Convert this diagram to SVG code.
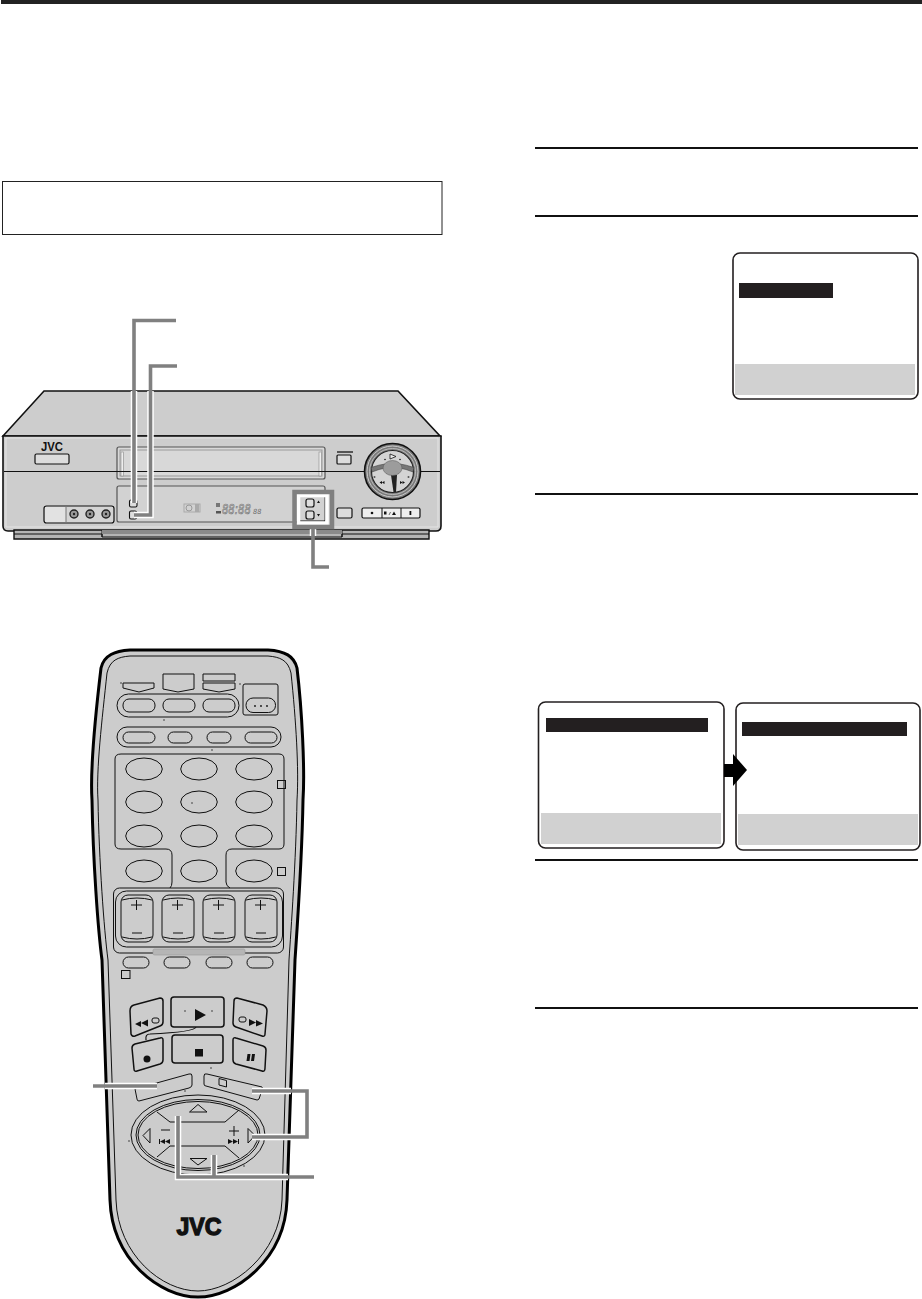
<svg xmlns="http://www.w3.org/2000/svg" width="922" height="1299" viewBox="0 0 922 1299">
<style>
.b{fill:#cdcdcd;stroke:#111;stroke-width:1}
.t{fill:none;stroke:#111;stroke-width:1}
.k{fill:#111;stroke:none}
.w{fill:#fff;stroke:#111;stroke-width:1.2}
.h{fill:none;stroke:#fff;stroke-width:6.5;stroke-linecap:butt}
.c{fill:none;stroke:#808080;stroke-width:3.6;stroke-linecap:butt}
.r{fill:none;stroke:#111;stroke-width:2}
.m{fill:#fff;stroke:#231f20;stroke-width:1.6}
.d{fill:#231f20}
.g{fill:#d1d1d1}
.s{fill:#fff;stroke:#111;stroke-width:1}
</style>
<defs>
<ellipse id="e" rx="18.3" ry="11" class="t"/>
<g id="vol"><rect x="0" y="0" width="32" height="47" rx="7" class="t"/><path class="t" d="M1,5Q16,1 31,5M1,42Q16,46 31,42"/><path class="t" d="M10,10H21M15.500,5V15M11,38H21"/></g>
</defs>
<rect width="922" height="1299" fill="#fff"/>
<rect x="1" y="0" width="921" height="4" fill="#222"/>
<rect id="note-box" x="2.500" y="181.500" width="439.500" height="53" fill="#fff" stroke="#222" stroke-width="1"/>
<g id="rules" class="r">
<path d="M535,148H918M535,216H918M535,494H918M535,860H918M535,1008H918"/>
</g>

<g id="vcr">
<path class="b" d="M3,436L44,391H398L440,436Z" style="stroke-width:1.600"/>
<path class="b" style="stroke-width:1.600" d="M3,436H441V526Q441,531 436,531H8Q3,531 3,526Z"/>
<path d="M6,438H438V527H6Z" fill="none" stroke="#e4e4e4" stroke-width="1"/>
<path class="b" d="M14,530H429V539H14Z" style="stroke-width:1.400;fill:#b4b4b4"/>
<path class="t" d="M14,534H102V537H342V534H429M102,530V537M342,530V537"/>
<path d="M102,530H342V534H102Z" fill="#8a8a8a"/>
<text x="41" y="451" font-family="'Liberation Sans',Arial,sans-serif" font-size="12.500" font-weight="700" fill="#111" textLength="22" lengthAdjust="spacingAndGlyphs">JVC</text>
<rect x="35" y="454" width="34" height="10" rx="1.500" class="s" style="fill:#ddd;stroke-width:1.200"/>
<rect x="117" y="447" width="208" height="32" rx="2" fill="#d8d8d8" stroke="#555" stroke-width="1.200"/>
<rect x="120" y="450" width="202" height="26" fill="none" stroke="#999" stroke-width="1"/>
<rect x="121" y="452" width="2.500" height="24" fill="#eee" stroke="#888" stroke-width=".6"/>
<rect x="319" y="452" width="2.500" height="24" fill="#eee" stroke="#888" stroke-width=".6"/>
<path class="t" d="M4,471.500H440"/>
<rect x="117" y="486" width="208" height="36" rx="2" fill="#d2d2d2" stroke="#555" stroke-width="1.200"/>
<rect x="129.500" y="511" width="7" height="8" rx="1.500" fill="#ddd" stroke="#111" stroke-width="1.100"/>
<rect x="129.500" y="500" width="7.500" height="7" rx="1.500" fill="#ddd" stroke="#111" stroke-width="1.100"/>
<rect x="184" y="504" width="16" height="8" fill="none" stroke="#aaa" stroke-width="1"/>
<circle cx="189" cy="508" r="3" fill="none" stroke="#999" stroke-width="1"/>
<rect x="195" y="504" width="4" height="8" fill="#aaa"/>
<rect x="216" y="503" width="4" height="4" fill="#777"/>
<rect x="216" y="511" width="5" height="2.500" fill="#555"/>
<text transform="translate(222,514) scale(1,1.400)" font-family="'DejaVu Sans',sans-serif" font-style="italic" font-size="10" fill="#d2d2d2" stroke="#777" stroke-width=".5">88:88</text>
<text transform="translate(253,514) scale(1,1.100)" font-family="'DejaVu Sans',sans-serif" font-style="italic" font-size="6.500" fill="#666">88</text>
<rect x="306" y="499" width="8" height="8" rx="2" fill="#ddd" stroke="#111" stroke-width="1.200"/>
<rect x="306" y="511" width="8" height="8" rx="2" fill="#ddd" stroke="#111" stroke-width="1.200"/>
<path class="k" d="M317,503L320,503L318.500,500.500ZM317,514L320,514L318.500,516.500Z"/>
<path class="t" d="M300,521H325"/>
<rect x="44" y="506" width="70" height="17" rx="2.500" fill="#d4d4d4" stroke="#111" stroke-width="1.200"/>
<rect x="45" y="507" width="21" height="15" fill="#e2e2e2"/>
<path class="t" d="M66,506V523" style="stroke:#777"/>
<g fill="#999" stroke="#222" stroke-width="1.400"><circle cx="74" cy="514" r="4"/><circle cx="90" cy="514" r="4"/><circle cx="106" cy="514" r="4"/></g>
<g fill="#222"><circle cx="74" cy="514" r="1.200"/><circle cx="90" cy="514" r="1.200"/><circle cx="106" cy="514" r="1.200"/></g>
<rect x="337" y="451" width="16" height="2" fill="#555"/>
<rect x="337" y="455" width="14" height="9" rx="1" fill="#ddd" stroke="#111" stroke-width="1.200"/>
<rect x="337" y="508" width="15" height="10" rx="1.500" fill="#ddd" stroke="#111" stroke-width="1.200"/>
<rect x="362" y="508" width="58" height="10" rx="1.500" fill="#eee" stroke="#111" stroke-width="1.200"/>
<path d="M382,508V518M401,508V518" stroke="#111" stroke-width="1"/>
<circle cx="372" cy="513" r="1.300" fill="#111"/>
<path class="k" d="M384,511.500h2.500v3h-2.500zM392,515l2,-3.500l2,3.500z"/>
<path d="M389,515l1.500,-3" stroke="#111" stroke-width=".6"/>
<rect x="409.500" y="511" width="1.800" height="4" fill="#111"/>
<g id="dial">
<circle cx="392.500" cy="471.500" r="28" fill="#7a7a7a" stroke="#111" stroke-width="1.600"/>
<circle cx="392.500" cy="471.500" r="25.500" fill="none" stroke="#ccc" stroke-width="1"/>
<circle cx="392.500" cy="471.500" r="23" fill="none" stroke="#bbb" stroke-width="1"/>
<circle cx="392.500" cy="471.500" r="21" fill="#d4d4d4" stroke="#222" stroke-width="1.100"/>
<path d="M371,467.500Q380,464.500 385,464L386,468Q379,469 372,472Z" fill="#777" stroke="#333" stroke-width=".5"/>
<path d="M414,467.500Q405,464.500 400,464L399,468Q406,469 413,472Z" fill="#777" stroke="#333" stroke-width=".5"/>
<path d="M391,475L393.500,492L396,492L397,475Z" fill="#222"/>
<ellipse cx="392.500" cy="468" rx="9.500" ry="7.500" fill="#9c9c9c" stroke="#555" stroke-width=".5"/>
<path d="M390,454L396,456.500L390,459Z" fill="#eee" stroke="#111" stroke-width=".8"/>
<circle cx="385" cy="459.500" r=".8" fill="#111"/><circle cx="400" cy="459.500" r=".8" fill="#111"/>
<path class="k" d="M379.500,482.500l2.500,-1.500v3zM382,482.500l2.500,-1.500v3zM400,481l2.500,1.500l-2.500,1.500zM402.500,481l2.500,1.500l-2.500,1.500z"/>
<circle cx="374.500" cy="477" r="1" fill="#555"/><circle cx="408.500" cy="477" r="1" fill="#555"/>
</g>
</g>

<g id="remote">
<path id="remote-body" fill="#cccccc" stroke="#000" stroke-width="3" d="M101,668C104,655 115,651 130,650L268,650C285,651 294,656 297,668C302,710 305,770 303,800C302,860 297,930 295,960L287,1200C285,1260 235,1297 198,1297C160,1297 112,1260 110,1200L102,960C98,930 93,860 92,800C90,770 96,710 101,668Z"/>
<path class="t" d="M107,673C110,660 118,657 130,656L268,656C280,657 288,660 291,673C296,720 299,770 297,800C296,860 291,930 289,960L282,1200C280,1255 232,1291 198,1291C162,1291 118,1255 116,1200L108,960C104,930 99,860 98,800C96,770 102,720 107,673Z"/>
<g class="t">
<path d="M123,683H154V688L139,692L123,688Z"/>
<path d="M163,674H194V689L178,692L163,689Z"/>
<path d="M203,674H235V681H203ZM203,683H235V689L219,692L203,689Z"/>
<rect x="117" y="694" width="122" height="23" rx="11.500"/>
<rect x="123" y="699" width="32" height="13" rx="6"/>
<rect x="163" y="699" width="32" height="13" rx="6"/>
<rect x="203" y="699" width="32" height="13" rx="6"/>
<rect x="243" y="684" width="35" height="31" rx="2"/>
<rect x="246" y="698" width="29.500" height="14.500" rx="7"/>
<rect x="117" y="727" width="164" height="20" rx="10"/>
<rect x="123" y="732" width="32" height="11" rx="5.500"/>
<rect x="168" y="732" width="24" height="11" rx="5.500"/>
<rect x="207" y="732" width="24" height="11" rx="5.500"/>
<rect x="245" y="732" width="32" height="11" rx="5.500"/>
<path d="M121,754H279Q284,754 284,759V844Q284,849 279,849H232Q226,849 226,855V882Q226,886 230,888M121,754Q115,754 115,759V844Q115,849 121,849H166Q172,849 172,855V882Q172,886 170,888"/>
<use href="#e" x="144" y="769"/><use href="#e" x="199" y="769"/><use href="#e" x="254" y="769"/>
<use href="#e" x="144" y="802"/><use href="#e" x="199" y="802"/><use href="#e" x="254" y="802"/>
<use href="#e" x="144" y="836"/><use href="#e" x="199" y="836"/><use href="#e" x="254" y="836"/>
<use href="#e" x="144" y="871"/><use href="#e" x="199" y="871"/><use href="#e" x="254" y="871"/>
<rect x="277.500" y="780.500" width="8" height="8"/>
<rect x="277.500" y="867.500" width="8" height="8"/>
<rect x="121.500" y="970.500" width="8.500" height="8"/>
<rect x="113.500" y="888" width="170" height="65" rx="6"/>
<rect x="115.500" y="891" width="167" height="56" rx="11"/>
<use href="#vol" x="121" y="895"/><use href="#vol" x="162" y="895"/><use href="#vol" x="203" y="895"/><use href="#vol" x="245" y="895"/>
<rect x="123" y="957" width="26" height="11" rx="5.500"/>
<rect x="164" y="957" width="26" height="11" rx="5.500"/>
<rect x="206" y="957" width="26" height="11" rx="5.500"/>
<rect x="247" y="957" width="26" height="11" rx="5.500"/>
</g>
<rect x="153" y="949" width="92" height="6" rx="1.500" fill="#b5b5b5" stroke="#999" stroke-width=".6"/>
<g class="t" style="stroke-width:1.500">
<path d="M130,1011Q130,1006 134,1005L160,998Q163,998 163,1001V1022Q163,1025 160,1026L135,1036Q132,1037 131,1034Z"/>
<path d="M171,1000Q171,997 174,997H221Q224,997 224,1000V1024Q224,1027 221,1027H174Q171,1027 171,1024Z"/>
<path d="M234,1001Q234,998 237,998L263,1005Q267,1007 267,1011L265,1034Q265,1037 262,1036L236,1027Q233,1026 233,1023Z"/>
<path d="M132,1048Q132,1045 135,1044L160,1038Q163,1037 163,1040V1060Q163,1063 160,1064L137,1071Q134,1072 134,1069Z"/>
<path d="M172,1038Q172,1035 175,1035H220Q223,1035 223,1038V1060Q223,1063 220,1063H175Q172,1063 172,1060Z"/>
<path d="M233,1040Q233,1037 236,1038L263,1046Q266,1047 266,1050L265,1068Q265,1072 262,1071L236,1064Q233,1063 233,1060Z"/>
<path d="M146,1040Q145,1034 150,1034Q195,1032 196,1027" style="stroke-width:1.200"/>
</g>
<g class="t">
<path d="M135,1089L189,1074Q192,1073 192,1076V1085Q192,1087 189,1088L139,1101Q137,1101 137,1099Z"/>
<path d="M204,1076Q204,1073 207,1074L262,1087Q263,1088 262,1090L259,1099Q258,1100 257,1100L206,1086Q204,1086 204,1084Z"/>
<path d="M219,1078.500L226.500,1080.500V1087L219,1085Z"/>
<ellipse cx="198" cy="1135" rx="67" ry="40"/>
<ellipse cx="198" cy="1135" rx="62" ry="35.500"/>
<ellipse cx="198" cy="1135" rx="60" ry="33.500"/>
<path d="M157,1112L170,1122H225L239,1110M157,1157L170,1146H225L239,1158"/>
<path d="M198,1104.500L189.500,1112H207Z"/>
<path d="M190,1158.500H207L198,1165Z"/>
<path d="M150,1128.500L143,1135.500L150,1143Z"/>
<path d="M248,1128.500L255,1135.500L248,1143Z"/>
<path d="M161,1130H170M229,1131H239M234,1126V1136"/>
<rect x="152" y="1018" width="7" height="5" rx="2"/>
<rect x="239" y="1017" width="7" height="5" rx="2"/>
</g>
<path class="k" d="M195,1009L206,1015L195,1021ZM195,1049H203V1056.500H195ZM247.500,1054H250.500L249.500,1061H246.500ZM252,1054H255L254,1061H251Z"/>
<circle cx="147" cy="1059" r="3.500" class="k"/>
<path class="k" d="M135,1024l6,-3v6zM141,1023l7,-3.500v7zM249,1019l7,3.500l-7,3.500zM256,1020l7,3.500l-7,3z"/>
<path class="k" d="M159,1139h1v5h-1zM165,1139l-5,2.500l5,2.500zM170,1139l-5,2.500l5,2.500zM228,1139l5,2.500l-5,2.500zM233,1139l5,2.500l-5,2.500zM238,1139h1v5h-1z"/>
<g fill="#111">
<circle cx="121" cy="683" r=".7"/><circle cx="164" cy="720" r=".7"/><circle cx="212" cy="750" r=".7"/><circle cx="240" cy="684" r=".7"/><circle cx="192" cy="803" r=".7"/><circle cx="185" cy="1091" r=".7"/><circle cx="211" cy="1068" r=".7"/><circle cx="129" cy="1141" r=".7"/><circle cx="244" cy="1166" r=".7"/><circle cx="185" cy="1011" r=".7"/><circle cx="212" cy="1011" r=".7"/>
<circle cx="255" cy="706" r=".9"/><circle cx="261" cy="706" r=".9"/><circle cx="267" cy="706" r=".9"/>
</g>
<text x="176.500" y="1234.500" font-family="'Liberation Sans',Arial,sans-serif" font-size="24" font-weight="700" fill="#111" stroke="#111" stroke-width="1.300" textLength="45" lengthAdjust="spacingAndGlyphs">JVC</text>
</g>

<g id="menu-1">
<rect class="m" x="733" y="253" width="185" height="146" rx="7"/>
<rect class="d" x="739" y="283" width="94" height="15"/>
<rect class="g" x="735" y="364" width="180" height="31"/>
</g>
<g id="menu-2">
<rect class="m" x="538.500" y="702" width="185.500" height="146" rx="7"/>
<rect class="d" x="546" y="718" width="162" height="14"/>
<rect class="g" x="541" y="813" width="180" height="31"/>
</g>
<g id="menu-3">
<rect class="m" x="736" y="703" width="184" height="147" rx="7"/>
<rect class="d" x="742" y="722" width="165" height="14"/>
<rect class="g" x="738" y="814" width="180" height="31"/>
</g>
<path id="menu-arrow" fill="#000" d="M724,764H733V754L747,770L733,786V777H724Z"/>

<g id="connectors">
<path class="h" d="M134,391V503M150.500,391V515H134"/>
<path d="M298.500,495.500H327V523H298.500Z" fill="none" stroke="#fff" stroke-width="3.500"/>
<path d="M313,529V536" stroke="#fff" stroke-width="6.500"/>
<path class="c" d="M176,320.500H134V503"/>
<path class="c" d="M177,366H150.500V515H134"/>
<path d="M294.500,492H332V527H294.500Z" fill="none" stroke="#808080" stroke-width="4.500"/>
<path class="c" d="M313,529V567H329"/>
<path class="h" d="M105,1086H157M252,1091H291M252,1137H291M178,1116V1177H288M214,1155V1177"/>
<path class="c" d="M93,1086H157"/>
<path class="c" d="M252,1091H307V1137H252"/>
<path class="c" d="M178,1116V1177H314"/>
<path class="c" d="M214,1155V1177"/>
</g>
</svg>
